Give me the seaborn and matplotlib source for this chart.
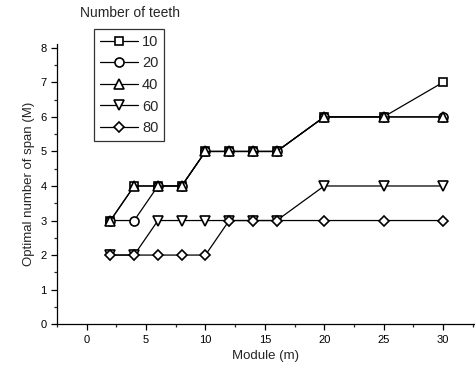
import pandas as pd
import seaborn as sns
import numpy as np
import matplotlib.pyplot as plt
from matplotlib.ticker import MultipleLocator

module = [2, 4, 6, 8, 10, 12, 14, 16, 20, 25, 30]
teeth = ['10', '20', '40', '60', '80']
span_10 = [3, 4, 4, 4, 5, 5, 5, 5, 6, 6, 7]
span_20 = [3, 3, 4, 4, 5, 5, 5, 5, 6, 6, 6]
span_40 = [3, 4, 4, 4, 5, 5, 5, 5, 6, 6, 6]
span_60 = [2, 2, 3, 3, 3, 3, 3, 3, 4, 4, 4]
span_80 = [2, 2, 2, 2, 2, 3, 3, 3, 3, 3, 3]

rows = []
for t, vals in zip(teeth, [span_10, span_20, span_40, span_60, span_80]):
    for m, v in zip(module, vals):
        rows.append({'module': m, 'span': v, 'teeth': t})
data = pd.DataFrame(rows)

sns.set_style('ticks')
plt.rcParams['font.family'] = ['Liberation Sans', 'DejaVu Sans']

fig = plt.figure(figsize=(4.75, 3.73), dpi=100)
ax = fig.add_axes([0.12, 0.131, 0.88, 0.75])

markers = {'10': 's', '20': 'o', '40': '^', '60': 'v', '80': 'D'}
sizes = {'10': 6, '20': 6.5, '40': 6.5, '60': 6.5, '80': 5.5}
for t in teeth:
    sub = data[data['teeth'] == t]
    sns.lineplot(x='module', y='span', data=sub, ax=ax, color='black', lw=0.9,
                 marker=markers[t], markersize=sizes[t], markerfacecolor='white',
                 markeredgecolor='black', markeredgewidth=1.2, label=t)

ax.set_xlim(-2.5, 32.7)
ax.set_ylim(0, 8.1)
ax.xaxis.set_major_locator(MultipleLocator(5))
ax.xaxis.set_minor_locator(MultipleLocator(2.5))
ax.yaxis.set_major_locator(MultipleLocator(1))
ax.yaxis.set_minor_locator(MultipleLocator(0.5))
ax.tick_params(which='major', length=4, width=0.9, labelsize=8, colors='black')
ax.tick_params(which='minor', length=2.5, width=0.9)
sns.despine(ax=ax)
for s in ['left', 'bottom']:
    ax.spines[s].set_linewidth(0.9)
    ax.spines[s].set_color('black')

ax.set_xlabel('Module (m)', fontsize=9.5)
ax.set_ylabel('Optimal number of span (M)', fontsize=9.5)

leg = ax.legend(loc='upper left', bbox_to_anchor=(94 / 475, 1 - 29 / 373),
                bbox_transform=fig.transFigure, frameon=True, fancybox=False,
                edgecolor='black', fontsize=10.5, handlelength=2.6,
                borderpad=0.4, labelspacing=0.52, handletextpad=0.3,
                borderaxespad=0)
leg.get_frame().set_linewidth(0.9)
fig.text(130 / 475, 1 - 13 / 373, 'Number of teeth', ha='center', va='center', fontsize=10)

plt.savefig('out.png', dpi=100)
